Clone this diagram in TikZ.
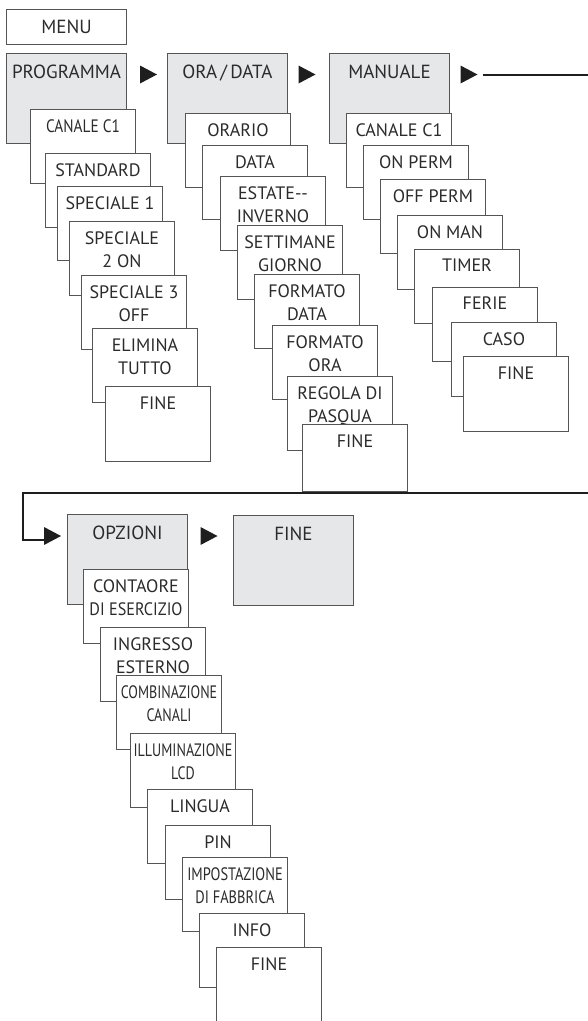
\documentclass[tikz,border=0pt]{standalone}
\usepackage{fontspec}
\setmainfont{PT Sans}
\usepackage{graphicx}
\definecolor{boxline}{HTML}{555555}
\definecolor{headfill}{HTML}{E6E7E8}
\definecolor{ink}{HTML}{2B2B2B}
\definecolor{arrowc}{HTML}{1E1E1E}
\newcommand{\cond}[2][0.78]{\scalebox{#1}[1]{#2}}
\newcommand{\marktri}[1]{\fill[arrowc] (#1) ++(-8.5,-9) -- ++(17,9) -- ++(-17,9) -- cycle;}
\tikzset{
  mhead/.style={draw=boxline, fill=headfill, line width=1pt, anchor=north west, minimum width=120pt, minimum height=90pt, inner sep=0pt},
  mitem/.style={draw=boxline, fill=white, line width=1pt, anchor=north west, minimum width=105pt, minimum height=74pt, inner sep=0pt},
  htxt/.style={anchor=north, inner sep=0pt, yshift=-12pt, text=ink, align=center, font=\fontsize{19}{24}\selectfont},
  ltxt/.style={anchor=north, inner sep=0pt, yshift=-10pt, text=ink, align=center, font=\fontsize{18}{23}\selectfont},
  flow/.style={draw=arrowc, line width=2pt}
}

\begin{document}
\begin{tikzpicture}[x=1pt, y=-1pt]
\useasboundingbox (0,0) rectangle (588,1021);

% menu and heads
\node[mitem, minimum width=120pt, minimum height=35pt, text=ink, font=\fontsize{19}{24}\selectfont] (menu) at (6,9) {MENU};
\node[mhead, label={[htxt]north:PROGRAMMA}] (prog) at (6,53) {};
\node[mhead, label={[htxt]north:ORA\,/\,DATA}] (ora) at (167,53) {};
\node[mhead, label={[htxt]north:MANUALE}] (man) at (329,53) {};

% programma
\node[mitem, label={[ltxt]north:\cond[0.85]{CANALE C1}}] (pc1) at (30,109) {};
\node[mitem, label={[ltxt]north:STANDARD}] (pc2) at (45,153) {};
\node[mitem, label={[ltxt]north:SPECIALE 1}] (pc3) at (57,186) {};
\node[mitem, label={[ltxt]north:SPECIALE\\2 ON}] (pc4) at (69,221) {};
\node[mitem, label={[ltxt]north:SPECIALE 3\\OFF}] (pc5) at (81,275) {};
\node[mitem, label={[ltxt]north:ELIMINA\\TUTTO}] (pc6) at (92,328) {};
\node[mitem, minimum height=75pt, label={[ltxt]north:FINE}] (pc7) at (105,386) {};

% ora/data
\node[mitem, label={[ltxt]north:ORARIO}] (oc1) at (185,113) {};
\node[mitem, label={[ltxt]north:DATA}] (oc2) at (202,145) {};
\node[mitem, label={[ltxt]north:ESTATE-{}-\\INVERNO}] (oc3) at (220,176) {};
\node[mitem, label={[ltxt]north:SETTIMANE\\GIORNO}] (oc4) at (237,225) {};
\node[mitem, label={[ltxt]north:FORMATO\\DATA}] (oc5) at (254,274) {};
\node[mitem, label={[ltxt]north:FORMATO\\ORA}] (oc6) at (272,325) {};
\node[mitem, label={[ltxt]north:REGOLA DI\\PASQUA}] (oc7) at (287,376) {};
\node[mitem, minimum height=67pt, label={[ltxt]north:FINE}] (oc8) at (302,424) {};

% manuale
\node[mitem, label={[ltxt]north:CANALE C1}] (mc1) at (346,113) {};
\node[mitem, label={[ltxt]north:ON PERM}] (mc2) at (363,145) {};
\node[mitem, label={[ltxt]north:OFF PERM}] (mc3) at (380,179) {};
\node[mitem, label={[ltxt]north:ON MAN}] (mc4) at (397,215) {};
\node[mitem, label={[ltxt]north:TIMER}] (mc5) at (414,249) {};
\node[mitem, label={[ltxt]north:FERIE}] (mc6) at (432,287) {};
\node[mitem, label={[ltxt]north:CASO}] (mc7) at (451,322) {};
\node[mitem, minimum height=75pt, label={[ltxt]north:FINE}] (mc8) at (463,356) {};

% second row heads
\node[mhead, label={[htxt]north:OPZIONI}] (opz) at (67,514) {};
\node[mhead, label={[htxt]north:FINE}] (fine) at (233,515) {};

% opzioni
\node[mitem, label={[ltxt]north:CONTAORE\\\cond[0.9]{DI ESERCIZIO}}] (zc1) at (83,569) {};
\node[mitem, label={[ltxt]north:INGRESSO\\ESTERNO}] (zc2) at (100,627) {};
\node[mitem, label={[ltxt]north:\cond{COMBINAZIONE}\\\cond{CANALI}}] (zc3) at (116,675) {};
\node[mitem, label={[ltxt]north:\cond{ILLUMINAZIONE}\\\cond{LCD}}] (zc4) at (130,733) {};
\node[mitem, label={[ltxt]north:LINGUA}] (zc5) at (147,789) {};
\node[mitem, label={[ltxt]north:PIN}] (zc6) at (165,825) {};
\node[mitem, label={[ltxt]north:\cond[0.8]{IMPOSTAZIONE}\\\cond[0.8]{DI FABBRICA}}] (zc7) at (182,857) {};
\node[mitem, label={[ltxt]north:INFO}] (zc8) at (199,913) {};
\node[mitem, minimum height=80pt, label={[ltxt]north:FINE}] (zc9) at (216,947) {};

% arrow marks
\coordinate (t1) at (148.5,74.5);
\coordinate (t2) at (307,74.5);
\coordinate (t3) at (469,74.5);
\coordinate (t4) at (52.5,536);
\coordinate (t5) at (209,536);

% connector to second row
\coordinate (m0) at (483,74.5);
\coordinate (m1) at (610,493);
\coordinate (m2) at (23,540);
\coordinate (m3) at (44,540);
\draw[flow] (m0) -| (m1) -| (m2) -- (m3);

\marktri{t1}
\marktri{t2}
\marktri{t3}
\marktri{t4}
\marktri{t5}
\end{tikzpicture}
\end{document}
